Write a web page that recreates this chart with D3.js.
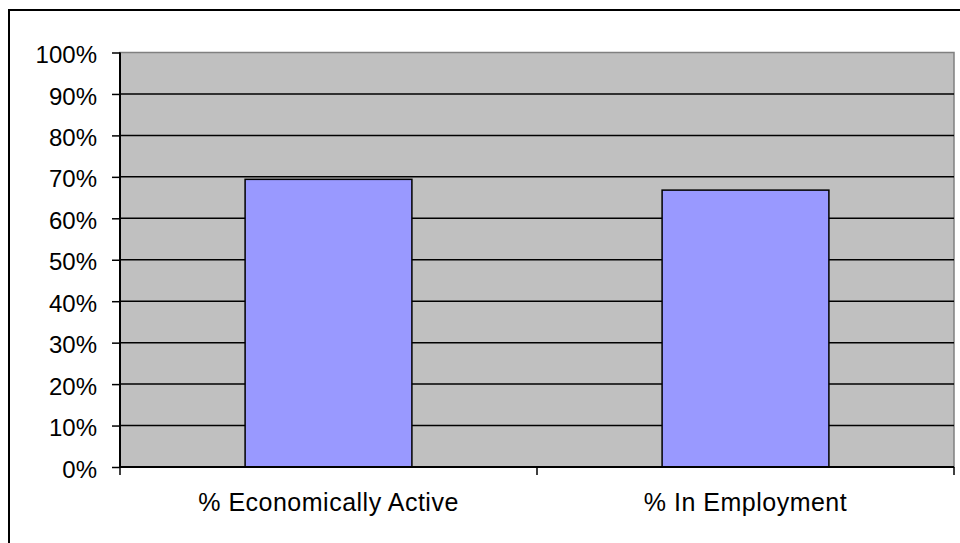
<!DOCTYPE html>
<html>
<head>
<meta charset="utf-8">
<script src="https://cdn.jsdelivr.net/npm/d3@7"></script>
<style>
html,body{margin:0;padding:0;background:#fff;}
svg{display:block;}
text{font-family:"Liberation Sans",Arial,sans-serif;fill:#000;}
</style>
</head>
<body>
<svg id="chart" width="960" height="543"></svg>
<script>
const categories = ["% Economically Active", "% In Employment"];
const values = [0.694, 0.668];
const yTicks = [0, 0.1, 0.2, 0.3, 0.4, 0.5, 0.6, 0.7, 0.8, 0.9, 1.0];

const svg = d3.select("#chart");
const W = 960, H = 543;
const plot = {left: 120, right: 954, top: 52.5, bottom: 467};

// outer frame
svg.append("rect")
  .attr("x", 9).attr("y", 10)
  .attr("width", 960).attr("height", 560)
  .attr("fill", "#fff").attr("stroke", "#000").attr("stroke-width", 2);

const x = d3.scaleBand().domain(categories).range([plot.left, plot.right]).padding(0);
const y = d3.scaleLinear().domain([0, 1]).range([plot.bottom, plot.top]);

// plot background
svg.append("rect")
  .attr("x", plot.left).attr("y", plot.top)
  .attr("width", plot.right - plot.left).attr("height", plot.bottom - plot.top)
  .attr("fill", "#C0C0C0").attr("stroke", "#808080").attr("stroke-width", 1.5);

// gridlines
svg.append("g").selectAll("line").data(yTicks.filter(d => d > 0 && d < 1)).join("line")
  .attr("x1", plot.left).attr("x2", plot.right)
  .attr("y1", d => y(d)).attr("y2", d => y(d))
  .attr("stroke", "#000").attr("stroke-width", 1.5);

// bars
const bw = x.bandwidth();
svg.append("g").selectAll("rect").data(categories).join("rect")
  .attr("x", d => x(d) + bw * 0.3)
  .attr("width", bw * 0.4)
  .attr("y", (d, i) => y(values[i]))
  .attr("height", (d, i) => y(0) - y(values[i]))
  .attr("fill", "#9999FF").attr("stroke", "#000").attr("stroke-width", 1.5);

// y axis
const yAxis = d3.axisLeft(y).tickValues(yTicks).tickFormat(d3.format(".0%")).tickSize(8).tickPadding(15);
const gy = svg.append("g").attr("transform", `translate(${plot.left},0)`).call(yAxis);
gy.select(".domain").attr("stroke", "#000").attr("stroke-width", 2).attr("d", `M0,${plot.top}V${plot.bottom}`);
gy.selectAll(".tick line").attr("stroke", "#000").attr("stroke-width", 1.5);
gy.selectAll(".tick text").attr("font-size", 24).attr("font-family", "Liberation Sans, Arial, sans-serif").attr("dy", "0.42em");

// x axis
const xAxis = d3.axisBottom(x).tickSize(0).tickPadding(26);
const gx = svg.append("g").attr("transform", `translate(0,${plot.bottom})`).call(xAxis);
gx.select(".domain").attr("stroke", "#000").attr("stroke-width", 2).attr("d", `M${plot.left},0H${plot.right}`);
gx.selectAll(".tick text").attr("font-size", 25).attr("letter-spacing", "0.5px").attr("font-family", "Liberation Sans, Arial, sans-serif");
// category boundary ticks
const bounds = [plot.left, ...categories.slice(1).map(c => x(c)), plot.right];
gx.append("g").selectAll("line").data(bounds).join("line")
  .attr("x1", d => d).attr("x2", d => d)
  .attr("y1", 0).attr("y2", 8)
  .attr("stroke", "#000").attr("stroke-width", 1.5);
</script>
</body>
</html>
